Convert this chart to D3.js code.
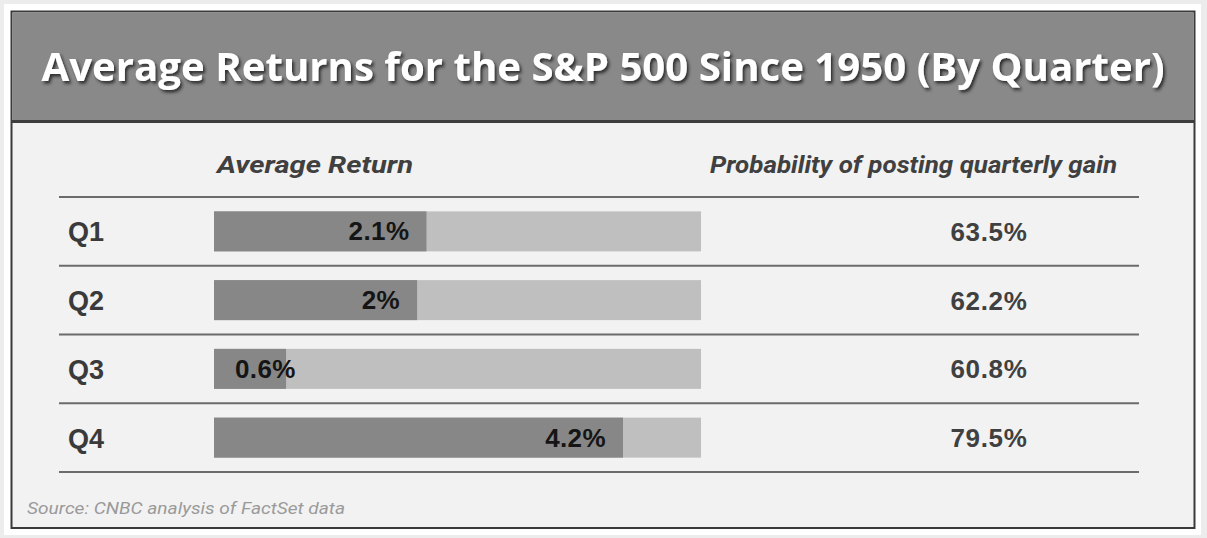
<!DOCTYPE html>
<html><head><meta charset="utf-8">
<script src="https://cdn.jsdelivr.net/npm/d3@7"></script>
<style>html,body{margin:0;padding:0;background:#ececec;} svg{display:block;}</style>
</head><body><svg id="c" width="1207" height="538"></svg>
<script>
const title = "Average Returns for the S&P 500 Since 1950 (By Quarter)";
const columnHeaders = ["Average Return", "Probability of posting quarterly gain"];
const quarters = ["Q1", "Q2", "Q3", "Q4"];
const avgReturn = [2.1, 2.0, 0.6, 4.2];
const avgReturnLabels = ["2.1%", "2%", "0.6%", "4.2%"];
const probGain = [63.5, 62.2, 60.8, 79.5];
const source = "Source: CNBC analysis of FactSet data";

const svg = d3.select("#c");
const defs = svg.append("defs");
const f = defs.append("filter").attr("id", "sh").attr("x", "-5%").attr("y", "-30%").attr("width", "110%").attr("height", "160%");
f.append("feDropShadow").attr("dx", 2).attr("dy", 2.5).attr("stdDeviation", 1.6).attr("flood-color", "#222").attr("flood-opacity", 0.85);

function fit(sel, w) {
  const n = sel.node();
  const len = n.getComputedTextLength();
  if (Math.abs(len - w) > 1) sel.attr("textLength", w).attr("lengthAdjust", "spacingAndGlyphs");
  return sel;
}

// outer white band and frame
svg.append("rect").attr("x", 4).attr("y", 4).attr("width", 1197).attr("height", 531).attr("fill", "#ffffff");
svg.append("rect").attr("x", 11.5).attr("y", 11.5).attr("width", 1183).attr("height", 516.5)
  .attr("fill", "#f2f2f2").attr("stroke", "#3a3a3a").attr("stroke-width", 2);
// header band
svg.append("rect").attr("x", 12.5).attr("y", 12.5).attr("width", 1181).attr("height", 108)
  .attr("fill", "#898989");
svg.append("line").attr("x1", 12).attr("x2", 1195).attr("y1", 121.5).attr("y2", 121.5)
  .attr("stroke", "#3d3d3d").attr("stroke-width", 3);

const tt = svg.append("text").attr("x", 603).attr("y", 81).attr("text-anchor", "middle")
  .attr("font-family", "'Open Sans', sans-serif").attr("font-weight", 700).attr("font-size", 39)
  .attr("fill", "#ffffff").attr("filter", "url(#sh)").text(title);
fit(tt, 1123);

// column headers
const h1 = svg.append("text").attr("x", 217).attr("y", 173)
  .attr("font-family", "Roboto, sans-serif").attr("font-style", "italic").attr("font-weight", 700)
  .attr("font-size", 23).attr("fill", "#404040").text(columnHeaders[0]);
fit(h1, 196);
const h2 = svg.append("text").attr("x", 710).attr("y", 173)
  .attr("font-family", "Roboto, sans-serif").attr("font-style", "italic").attr("font-weight", 700)
  .attr("font-size", 23).attr("fill", "#404040").text(columnHeaders[1]);
fit(h2, 407);

// scales
const y = d3.scaleBand().domain(quarters).range([197, 472]).paddingInner(0);
const x = d3.scaleLinear().domain([-0.17, 4.2]).range([214, 623]);
const barStart = 214, trackEnd = 701, barH = 40;

const rows = quarters.map((q, i) => ({ q, v: avgReturn[i], lab: avgReturnLabels[i], p: probGain[i] }));

// row separator lines
const lineYs = quarters.map(q => y(q)).concat([y.range()[1]]);
svg.append("g").selectAll("line").data(lineYs).join("line")
  .attr("x1", 59).attr("x2", 1139).attr("y1", d => d).attr("y2", d => d)
  .attr("stroke", "#6b6b6b").attr("stroke-width", 2.2);

const g = svg.append("g").selectAll("g").data(rows).join("g")
  .attr("transform", d => `translate(0,${y(d.q) + y.bandwidth() / 2})`);

g.append("text").attr("x", 68).attr("y", 10)
  .attr("font-family", "'Liberation Sans', Arial, sans-serif").attr("font-weight", 700)
  .attr("font-size", 27).attr("fill", "#3a3a3a").text(d => d.q);

g.append("rect").attr("x", barStart).attr("y", -barH / 2).attr("width", trackEnd - barStart).attr("height", barH)
  .attr("fill", "#bfbfbf");
g.append("rect").attr("x", barStart).attr("y", -barH / 2).attr("width", d => x(d.v) - barStart).attr("height", barH)
  .attr("fill", "#878787");

g.append("text")
  .attr("font-family", "'Liberation Sans', Arial, sans-serif").attr("font-weight", 700)
  .attr("font-size", 26).attr("letter-spacing", 0.4).attr("fill", "#151515").attr("y", 9)
  .text(d => d.lab)
  .each(function (d) {
    const t = d3.select(this);
    const w = this.getComputedTextLength();
    let end = x(d.v) - 17;
    if (end - w < barStart + 21) end = barStart + 21 + w;
    t.attr("x", end).attr("text-anchor", "end");
  });

g.append("text").attr("x", 989).attr("y", 9.5).attr("text-anchor", "middle")
  .attr("font-family", "'Liberation Sans', Arial, sans-serif").attr("font-weight", 700)
  .attr("font-size", 26).attr("letter-spacing", 0.7).attr("fill", "#404040")
  .text(d => d3.format(".1f")(d.p) + "%");

const st = svg.append("text").attr("x", 27).attr("y", 514)
  .attr("font-family", "Roboto, sans-serif").attr("font-style", "italic")
  .attr("font-size", 16).attr("fill", "#9a9a9a").text(source);
fit(st, 318);
</script></body></html>
